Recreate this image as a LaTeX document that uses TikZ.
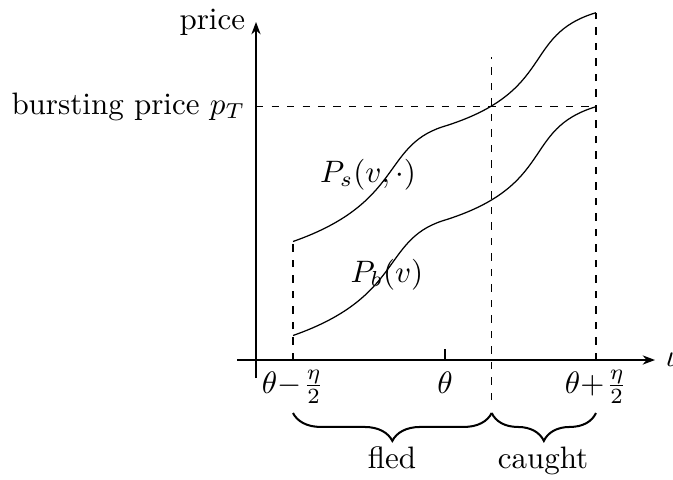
\documentclass[tikz,border=0pt]{standalone}
\usetikzlibrary{arrows.meta,decorations.pathreplacing}
\begin{document}
\begin{tikzpicture}[x=0.3226pt,y=-0.3226pt,
  axis/.style={-{Stealth[length=4pt,width=3pt]}},
  guide/.style={dash pattern=on 2.3pt off 2.7pt},
  curve/.style={line width=0.4pt},
  bracestyle/.style={decorate,decoration={brace,mirror,amplitude=9pt},line width=0.65pt},
  lab/.style={anchor=base}]
\useasboundingbox (0,0) rectangle (673,479);
% axes
\coordinate (xs) at (237,360);
\coordinate (xe) at (655,360);
\coordinate (ys) at (256,378);
\coordinate (ye) at (256,22);
\draw[axis] (xs) -- (xe);
\draw[axis] (ys) -- (ye);
\node[left] (price) at (ye) {price};
\node[right] (iota) at (xe) {$\iota$};
\coordinate (pT) at (256,106.7);
\node[left] (burst) at (pT) {bursting price $p_T$};
% guides
\coordinate (a0) at (293,360); \coordinate (a1) at (293,241.5);
\coordinate (c0) at (491.7,400); \coordinate (c1) at (491.7,57);
\coordinate (b0) at (596,360); \coordinate (b1) at (596,12.7);
\coordinate (bT) at (596,106.7);
\draw[guide] (a0) -- (a1);
\draw[guide] (c0) -- (c1);
\draw[guide] (b0) -- (b1);
\draw[guide] (pT) -- (bT);
% tick
\coordinate (tk0) at (445,360); \coordinate (tk1) at (445,349);
\draw (tk0) -- (tk1);
% tick labels
\node[lab] (lo) at (293,393) {$\theta{-}\mkern1mu\frac{\eta}{2}$};
\node[lab] (mid) at (445,393) {$\theta$};
\node[lab] (hi) at (596,393) {$\theta{+}\mkern1mu\frac{\eta}{2}$};
% curves
\draw[curve] (a1) .. controls (403,203) and (382,146.8) .. (442,127)
  .. controls (557,92) and (521,35.2) .. (b1);
\draw[curve] (293,335.5) .. controls (403,297) and (382,240.8) .. (442,221)
  .. controls (557,186) and (521,129.2) .. (bT);
\node[lab] (Ps) at (368,182) {$P_s(v,\cdot)$};
\node[lab] (Pb) at (387,282) {$P_b(v)$};
% braces
\coordinate (br0) at (293,413);
\coordinate (br1) at (491.7,413);
\coordinate (br2) at (596,413);
\draw[bracestyle] (br0) -- (br1);
\draw[bracestyle] (br1) -- (br2);
\node[lab] (fled) at (392,468) {fled};
\node[lab] (caught) at (543,468) {caught};
\end{tikzpicture}
\end{document}
